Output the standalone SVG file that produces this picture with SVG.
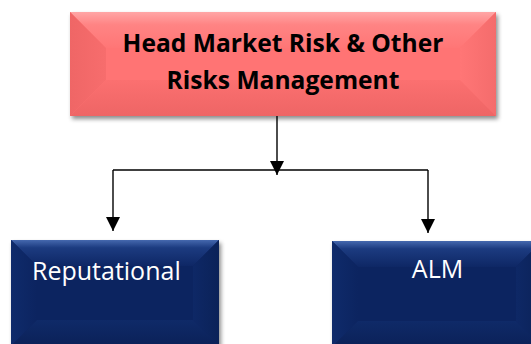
<svg xmlns="http://www.w3.org/2000/svg" width="531" height="344" viewBox="0 0 531 344">
<defs>
<style>
.t1{font-family:"Open Sans","Liberation Sans",sans-serif;font-weight:bold;font-size:24.6px;fill:#000;text-anchor:middle}
.t2{font-family:"Open Sans","Liberation Sans",sans-serif;font-size:25px;fill:#fff}
.conn{stroke:#000;stroke-width:1.4;fill:none}
</style>
<filter id="sh" x="-10%" y="-10%" width="120%" height="130%">
<feDropShadow dx="2" dy="3" stdDeviation="2" flood-color="#000" flood-opacity="0.45"/>
</filter>
<marker id="arr" markerUnits="userSpaceOnUse" markerWidth="16" markerHeight="16" refX="14" refY="7" orient="auto">
<path d="M0,0 L14,7 L0,14 Z" fill="#000"/>
</marker>
<linearGradient id="rTop" x1="0" y1="0" x2="0" y2="1">
<stop offset="0" stop-color="#FFA6A6"/><stop offset="0.35" stop-color="#FF8484"/><stop offset="1" stop-color="#FF7676"/>
</linearGradient>
<linearGradient id="rLeft" x1="0" y1="0" x2="1" y2="0">
<stop offset="0" stop-color="#EF6666"/><stop offset="1" stop-color="#F76D6D"/>
</linearGradient>
<linearGradient id="rRight" x1="0" y1="0" x2="1" y2="0">
<stop offset="0" stop-color="#FF7676"/><stop offset="1" stop-color="#F46C6C"/>
</linearGradient>
<linearGradient id="rBot" x1="0" y1="0" x2="0" y2="1">
<stop offset="0" stop-color="#FB7070"/><stop offset="1" stop-color="#EE6565"/>
</linearGradient>
<linearGradient id="bTop" x1="0" y1="0" x2="0" y2="1">
<stop offset="0" stop-color="#4568AE"/><stop offset="0.3" stop-color="#1C3B80"/><stop offset="1" stop-color="#0E2765"/>
</linearGradient>
<linearGradient id="bLeft" x1="0" y1="0" x2="1" y2="0">
<stop offset="0" stop-color="#0F2B6B"/><stop offset="1" stop-color="#0C2460"/>
</linearGradient>
<linearGradient id="bRight" x1="0" y1="0" x2="1" y2="0">
<stop offset="0" stop-color="#0E2866"/><stop offset="1" stop-color="#0B2258"/>
</linearGradient>
<linearGradient id="bBot" x1="0" y1="0" x2="0" y2="1">
<stop offset="0" stop-color="#0F2A68"/><stop offset="1" stop-color="#0B2158"/>
</linearGradient>
</defs>
<rect width="531" height="344" fill="#fff"/>

<g id="connectors">
<path class="conn" d="M277,116 V175" marker-end="url(#arr)"/>
<path class="conn" d="M113,170 H428"/>
<path class="conn" d="M113,170 V231" marker-end="url(#arr)"/>
<path class="conn" d="M428,170 V233" marker-end="url(#arr)"/>
</g>

<g id="head">
<rect x="70" y="12" width="426" height="104" fill="#FF7373" filter="url(#sh)"/>
<polygon points="70,12 496,12 460,48 106,48" fill="url(#rTop)"/>
<polygon points="70,12 106,48 106,80 70,116" fill="url(#rLeft)"/>
<polygon points="496,12 460,48 460,80 496,116" fill="url(#rRight)"/>
<polygon points="70,116 106,80 460,80 496,116" fill="url(#rBot)"/>
<rect x="106" y="48" width="354" height="32" fill="#FF7474"/>
<text class="t1" x="283" y="52">Head Market Risk &amp; Other</text>
<text class="t1" x="283" y="89">Risks Management</text>
</g>

<g id="reputational">
<rect x="11" y="240" width="208" height="106" fill="#0C2460" filter="url(#sh)"/>
<polygon points="11,240 219,240 193,266 37,266" fill="url(#bTop)"/>
<polygon points="11,240 37,266 37,320 11,346" fill="url(#bLeft)"/>
<polygon points="219,240 193,266 193,320 219,346" fill="url(#bRight)"/>
<polygon points="11,346 37,320 193,320 219,346" fill="url(#bBot)"/>
<rect x="37" y="266" width="156" height="54" fill="#0C2460"/>
<text class="t2" x="32" y="280">Reputational</text>
</g>

<g id="alm">
<rect x="332" y="241" width="210" height="106" fill="#0C2460" filter="url(#sh)"/>
<polygon points="332,241 542,241 516,267 358,267" fill="url(#bTop)"/>
<polygon points="332,241 358,267 358,321 332,347" fill="url(#bLeft)"/>
<polygon points="542,241 516,267 516,321 542,347" fill="url(#bRight)"/>
<polygon points="332,347 358,321 516,321 542,347" fill="url(#bBot)"/>
<rect x="358" y="267" width="158" height="54" fill="#0C2460"/>
<text class="t2" x="437.5" y="278" text-anchor="middle">ALM</text>
</g>
</svg>
